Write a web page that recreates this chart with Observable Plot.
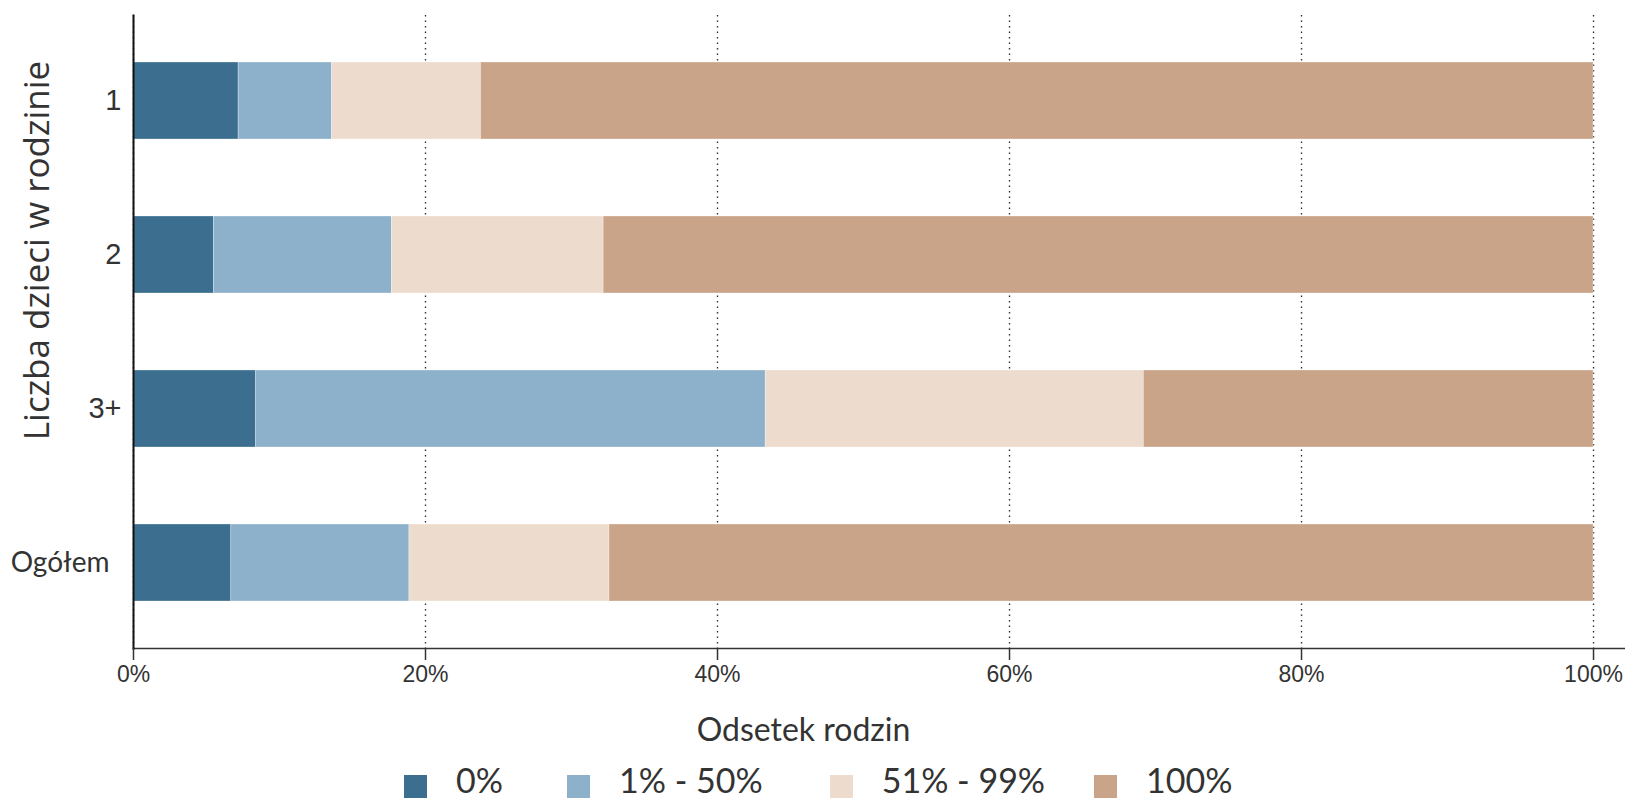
<!DOCTYPE html>
<html>
<head>
<meta charset="utf-8">
<script src="https://cdn.jsdelivr.net/npm/d3@7"></script>
<script src="https://cdn.jsdelivr.net/npm/@observablehq/plot@0.6"></script>
<style>
  html, body { margin: 0; padding: 0; background: #fff; overflow: hidden; }
  #chart svg { display: block; }
  #legend { position: absolute; left: 404px; top: 764px; height: 32px; display: flex; align-items: center; }
  #legend .lg-swatches { min-height: 0 !important; margin: 0 !important; line-height: 30px; }
  .lg-swatches-wrap .lg-swatch { line-height: 30px; height: 30px; }
  .lg-swatches-wrap span.lg-swatch:nth-of-type(1) { margin-right: 64px !important; }
  .lg-swatches-wrap span.lg-swatch:nth-of-type(2) { margin-right: 67px !important; }
  .lg-swatches-wrap span.lg-swatch:nth-of-type(3) { margin-right: 49px !important; }
  .lg-swatches-wrap span.lg-swatch:nth-of-type(4) { margin-right: 0 !important; }
  .lg-swatch > svg { margin-right: 29px !important; position: relative; top: 6px; }
</style>
</head>
<body>
<div id="chart"></div>
<div id="legend"></div>
<script>
const groups = ["1", "2", "3+", "Ogółem"];
const categories = ["0%", "1% - 50%", "51% - 99%", "100%"];
const colors = ["#3b6e8f", "#8db1cb", "#eddccd", "#c9a488"];
const share0 = [7.2, 5.5, 8.4, 6.7];
const share1to50 = [6.4, 12.2, 34.9, 12.2];
const share51to99 = [10.2, 14.5, 25.9, 13.7];
const share100 = [76.2, 67.8, 30.8, 67.4];
const xTicks = [0, 20, 40, 60, 80, 100];
const xTitle = "Odsetek rodzin";
const yTitle = "Liczba dzieci w rodzinie";

const series = [share0, share1to50, share51to99, share100];
const data = [];
groups.forEach((g, i) => {
  categories.forEach((c, j) => data.push({group: g, category: c, value: series[j][i]}));
});

const W = 1625, H = 765;
const plot = Plot.plot({
  width: W,
  height: H,
  marginLeft: 133,
  marginRight: 0,
  marginTop: 15,
  marginBottom: H - 648,
  style: {background: "#fff"},
  x: {domain: [0, 102.19], axis: null},
  y: {domain: groups, paddingInner: 0.5, paddingOuter: 0.3, axis: null},
  color: {domain: categories, range: colors},
  marks: [
    Plot.ruleX(xTicks, {stroke: "#333", strokeWidth: 1.4, strokeDasharray: "1.5,4"}),
    Plot.barX(data, Plot.stackX({
      x: "value", y: "group", fill: "category", order: categories,
      stroke: "#fff", strokeWidth: 0.6, strokeOpacity: 0.5, inset: 0
    })),
    Plot.frame({anchor: "bottom", stroke: "#333", strokeWidth: 1.6}),
    Plot.frame({anchor: "left", stroke: "#111", strokeWidth: 2}),
    Plot.axisX(xTicks, {
      tickSize: 12, tickPadding: 5, tickFormat: d => d + "%",
      fontSize: 23, fontFamily: "Liberation Sans", fill: "#333", stroke: "#333",
      strokeWidth: 1.5, label: null
    }),
    Plot.axisY(["1", "2", "3+"], {
      tickSize: 0, tickPadding: 12, fontSize: 29, fontFamily: "Liberation Sans",
      fill: "#333", label: null
    }),
    Plot.axisY(["Ogółem"], {
      tickSize: 0, tickPadding: 24, fontSize: 28, fontFamily: "Lato",
      fill: "#333", label: null
    }),
    Plot.text([xTitle], {
      frameAnchor: "bottom", textAnchor: "middle", lineAnchor: "middle",
      dx: -76, dy: 82, fontSize: 32, fontFamily: "Lato", fill: "#333"
    }),
    Plot.text([yTitle], {
      frameAnchor: "left", textAnchor: "middle", lineAnchor: "middle", rotate: -90,
      dx: -96, dy: -81.5, fontSize: 35, fontFamily: "Open Sans", fill: "#333"
    })
  ]
});
document.getElementById("chart").appendChild(plot);

const legend = plot.legend("color", {
  swatchSize: 23,
  className: "lg",
  style: {fontSize: "34px", fontFamily: "Lato", color: "#333"}
});
document.getElementById("legend").appendChild(legend);
</script>
</body>
</html>
